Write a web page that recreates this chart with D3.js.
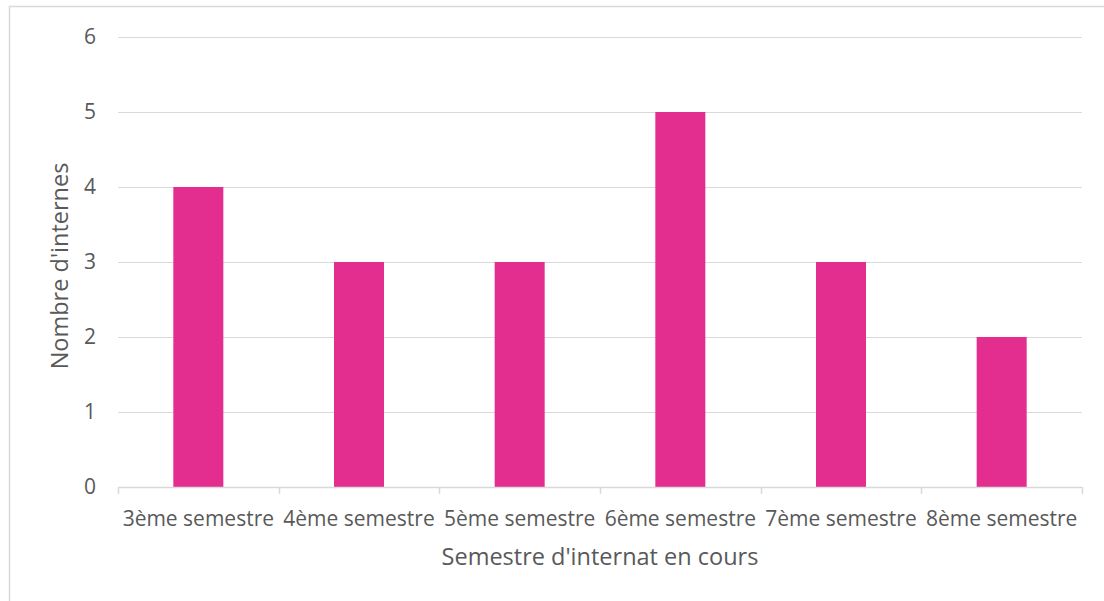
<!DOCTYPE html>
<html>
<head>
<meta charset="utf-8">
<style>
body { margin: 0; background: #fff; }
svg { display: block; font-family: "Open Sans", "Noto Sans", sans-serif; }
.grid line { stroke: #d9d9d9; stroke-width: 1px; }
.axis text { fill: #595959; font-size: 21px; }
.title { fill: #595959; font-size: 23.5px; }
</style>
</head>
<body>
<svg width="1104" height="601"></svg>
<script src="https://cdn.jsdelivr.net/npm/d3@7"></script>
<script>
var categories = ["3ème semestre", "4ème semestre", "5ème semestre", "6ème semestre", "7ème semestre", "8ème semestre"];
var values = [4, 3, 3, 5, 3, 2];
var yTicks = [0, 1, 2, 3, 4, 5, 6];

var svg = d3.select("svg");
var margin = {top: 37, right: 22, bottom: 114, left: 118};
var width = 1104 - margin.left - margin.right,
    height = 601 - margin.top - margin.bottom;

// chart border
svg.append("rect")
    .attr("x", 9.5).attr("y", 6.5)
    .attr("width", 1110).attr("height", 620)
    .attr("fill", "none")
    .attr("stroke", "#d9d9d9")
    .attr("stroke-width", 1.5);

var g = svg.append("g").attr("transform", "translate(" + margin.left + "," + margin.top + ")");

var xOuter = d3.scaleBand().domain(categories).range([0, width]);
var y = d3.scaleLinear().domain([0, 6]).range([height, 0]);

g.append("g").attr("class", "grid")
  .selectAll("line")
  .data(yTicks.filter(function(d) { return d > 0; }))
  .enter().append("line")
    .attr("x1", 0).attr("x2", width)
    .attr("y1", function(d) { return Math.round(y(d)) + 0.5; })
    .attr("y2", function(d) { return Math.round(y(d)) + 0.5; });

g.append("g")
  .selectAll("rect")
  .data(values)
  .enter().append("rect")
    .attr("x", function(d, i) { return xOuter(categories[i]) + xOuter.bandwidth() / 2 - 25; })
    .attr("width", 50)
    .attr("y", function(d) { return y(d); })
    .attr("height", function(d) { return height - y(d); })
    .attr("fill", "#e32e8f");

// x axis line + ticks at band boundaries
var xAxis = g.append("g").attr("class", "axis");
xAxis.append("line")
    .attr("x1", 0).attr("x2", width)
    .attr("y1", height + 0.5).attr("y2", height + 0.5)
    .attr("stroke", "#d9d9d9").attr("stroke-width", 1.5);
var bounds = categories.map(function(c) { return xOuter(c); }).concat([width]);
xAxis.selectAll(".tick")
  .data(bounds)
  .enter().append("line")
    .attr("x1", function(d) { return Math.round(d) + 0.5; })
    .attr("x2", function(d) { return Math.round(d) + 0.5; })
    .attr("y1", height).attr("y2", height + 7)
    .attr("stroke", "#d9d9d9").attr("stroke-width", 1.5);
xAxis.selectAll("text")
  .data(categories)
  .enter().append("text")
    .attr("x", function(d) { return xOuter(d) + xOuter.bandwidth() / 2; })
    .attr("y", height + 39)
    .attr("text-anchor", "middle")
    .text(function(d) { return d; });

// y axis labels
g.append("g").attr("class", "axis")
  .selectAll("text")
  .data(yTicks)
  .enter().append("text")
    .attr("x", -22)
    .attr("y", function(d) { return y(d) + 7; })
    .attr("text-anchor", "end")
    .text(function(d) { return d; });

svg.append("text").attr("class", "title")
    .attr("x", margin.left + width / 2)
    .attr("y", 565)
    .attr("text-anchor", "middle")
    .text("Semestre d'internat en cours");

svg.append("text").attr("class", "title")
    .attr("transform", "translate(68,266) rotate(-90)")
    .attr("text-anchor", "middle")
    .text("Nombre d'internes");
</script>
</body>
</html>
